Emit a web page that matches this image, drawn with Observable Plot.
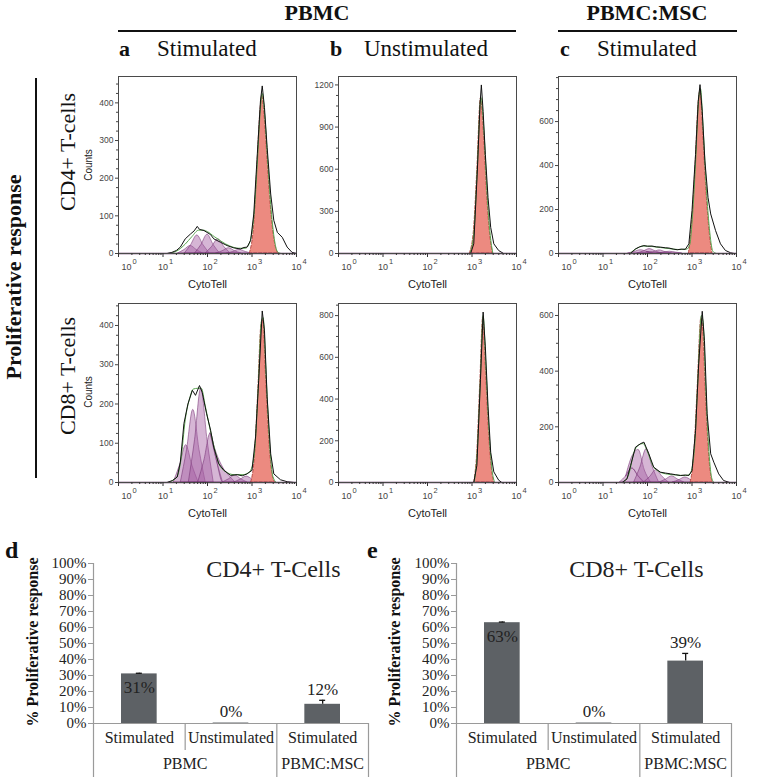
<!DOCTYPE html>
<html><head><meta charset="utf-8">
<script src="https://cdn.jsdelivr.net/npm/d3@7"></script>
<script src="https://cdn.jsdelivr.net/npm/@observablehq/plot@0.6"></script>
<style>
body{margin:0;background:#fff;}
#fig{position:relative;width:771px;height:783px;overflow:hidden;background:#fff;font-family:"Liberation Serif","Times New Roman",serif;color:#111;}
.t{position:absolute;white-space:nowrap;line-height:1;}
.c{transform:translate(-50%,-50%);}
.r{transform:translate(-50%,-50%) rotate(-90deg);}
.hl{position:absolute;background:#111;}
</style></head><body><div id="fig"></div>
<script>
// ---------- histogram data: [log10(CytoTell), counts] ----------
const aTopBlack = [[0,0],[1.09,0],[1.2,3],[1.3,8],[1.39,17],[1.5,39],[1.62,52],[1.7,60],[1.77,72],[1.82,64],[1.92,61],[1.99,56],[2.07,50],[2.14,39],[2.29,30],[2.44,21],[2.59,15],[2.74,12],[2.82,16],[2.89,17],[2.97,35],[3.04,105],[3.12,265],[3.19,405],[3.23,445],[3.28,388],[3.34,282],[3.42,158],[3.49,88],[3.57,56],[3.68,43],[3.79,17],[3.9,3],[4,0]];
const aTopGreen = [[1.1,0],[1.3,6],[1.5,25],[1.65,45],[1.8,62],[1.9,62],[2.0,58],[2.15,45],[2.3,33],[2.5,20],[2.7,14],[2.85,14],[2.95,30],[3.05,110],[3.12,240],[3.19,385],[3.23,425],[3.28,375],[3.35,250],[3.42,130],[3.5,40],[3.57,5],[3.65,0]];
const aTopRed = [[2.95,0],[3.05,80],[3.12,230],[3.19,380],[3.23,420],[3.28,370],[3.35,250],[3.42,130],[3.5,40],[3.57,5],[3.6,0]];
const aTopGens = [
  [[1.34,0],[1.48,9],[1.62,20],[1.76,9],[1.90,0]],
  [[1.49,0],[1.63,22],[1.77,48],[1.91,22],[2.05,0]],
  [[1.72,0],[1.86,22],[2.00,50],[2.14,22],[2.28,0]],
  [[1.96,0],[2.10,17],[2.24,38],[2.38,17],[2.52,0]],
  [[2.20,0],[2.34,6],[2.48,14],[2.62,6],[2.76,0]],
  [[2.44,0],[2.58,4],[2.72,10],[2.86,4],[3.00,0]]
];
const bTopBlack = [[0,0],[2.97,0],[3.04,69],[3.12,587],[3.18,1059],[3.21,1200],[3.25,1012],[3.3,705],[3.36,398],[3.42,186],[3.49,69],[3.6,21],[3.71,0],[4,0]];
const bTopGreen = [[2.95,0],[3.04,140],[3.12,610],[3.2,1110],[3.27,860],[3.34,420],[3.41,130],[3.47,0]];
const bTopRed = [[2.95,0],[3.04,150],[3.12,600],[3.2,1105],[3.27,850],[3.34,420],[3.41,130],[3.47,0]];
const bTopGens = [];
const cTopBlack = [[0,0],[1.62,0],[1.73,21],[1.82,30],[1.92,36],[2.0,33],[2.1,34],[2.2,30],[2.29,29],[2.4,26],[2.48,25],[2.58,20],[2.67,17],[2.76,20],[2.85,19],[2.93,44],[3.0,195],[3.08,451],[3.14,692],[3.18,768],[3.23,647],[3.29,421],[3.36,255],[3.42,180],[3.53,104],[3.64,44],[3.75,14],[3.87,3],[3.95,0],[4,0]];
const cTopGreen = [[1.6,0],[1.75,22],[1.9,34],[2.1,32],[2.3,27],[2.5,22],[2.7,18],[2.88,20],[2.95,40],[3.0,140],[3.08,410],[3.15,700],[3.19,750],[3.25,570],[3.32,305],[3.4,95],[3.47,10],[3.55,0]];
const cTopRed = [[2.93,0],[3.0,130],[3.08,400],[3.15,690],[3.19,740],[3.25,560],[3.32,300],[3.4,90],[3.46,0]];
const cTopGens = [
  [[1.57,0],[1.71,7],[1.85,15],[1.99,7],[2.13,0]],
  [[1.77,0],[1.91,9],[2.05,20],[2.19,9],[2.33,0]],
  [[1.99,0],[2.13,6],[2.27,14],[2.41,6],[2.55,0]],
  [[2.22,0],[2.36,4],[2.50,8],[2.64,4],[2.78,0]]
];
const aBotBlack = [[0,0],[1.09,0],[1.21,5],[1.32,14],[1.39,52],[1.47,150],[1.56,200],[1.66,235],[1.73,222],[1.82,247],[1.88,230],[1.98,175],[2.07,133],[2.14,90],[2.25,48],[2.37,31],[2.52,18],[2.67,20],[2.78,17],[2.89,22],[3.0,31],[3.08,116],[3.15,260],[3.23,437],[3.28,388],[3.34,218],[3.42,73],[3.49,22],[3.64,7],[3.79,2],[3.95,0],[4,0]];
const aBotGreen = [[1.1,0],[1.3,12],[1.4,55],[1.5,160],[1.6,215],[1.68,238],[1.78,240],[1.86,240],[1.95,195],[2.05,140],[2.15,90],[2.25,50],[2.4,28],[2.6,20],[2.8,20],[2.95,28],[3.05,70],[3.14,240],[3.21,410],[3.25,420],[3.32,265],[3.4,92],[3.47,15],[3.55,0]];
const aBotRed = [[2.98,0],[3.06,60],[3.14,230],[3.21,400],[3.25,415],[3.32,260],[3.4,90],[3.47,15],[3.52,0]];
const aBotGens = [
  [[1.24,0],[1.38,43],[1.52,95],[1.66,43],[1.80,0]],
  [[1.40,0],[1.54,83],[1.68,185],[1.82,83],[1.96,0]],
  [[1.58,0],[1.72,108],[1.86,240],[2.00,108],[2.14,0]],
  [[1.79,0],[1.93,56],[2.07,125],[2.21,56],[2.35,0]],
  [[2.07,0],[2.21,17],[2.35,38],[2.49,17],[2.63,0]],
  [[2.34,0],[2.48,8],[2.62,18],[2.76,8],[2.90,0]],
  [[2.60,0],[2.74,7],[2.88,15],[3.02,7],[3.16,0]]
];
const bBotBlack = [[0,0],[3.04,0],[3.11,82],[3.19,493],[3.25,817],[3.3,650],[3.36,366],[3.42,145],[3.49,51],[3.6,11],[3.67,0],[4,0]];
const bBotGreen = [[3.05,0],[3.12,155],[3.19,505],[3.25,800],[3.31,565],[3.38,255],[3.45,62],[3.51,0]];
const bBotRed = [[3.05,0],[3.12,150],[3.19,500],[3.25,790],[3.31,560],[3.38,250],[3.45,60],[3.5,0]];
const bBotGens = [];
const cBotBlack = [[0,0],[1.43,0],[1.54,13],[1.62,61],[1.73,127],[1.85,140],[1.92,145],[2.03,103],[2.14,55],[2.29,37],[2.4,34],[2.52,31],[2.63,28],[2.74,25],[2.85,27],[2.93,25],[3.0,43],[3.08,187],[3.15,426],[3.23,615],[3.28,510],[3.34,247],[3.42,103],[3.49,73],[3.6,31],[3.71,7],[3.85,0],[4,0]];
const cBotGreen = [[1.45,0],[1.58,30],[1.7,110],[1.8,135],[1.9,140],[2.0,110],[2.12,60],[2.25,40],[2.45,30],[2.65,27],[2.85,25],[2.95,30],[3.05,110],[3.13,360],[3.21,600],[3.25,575],[3.31,335],[3.38,112],[3.45,12],[3.5,0]];
const cBotRed = [[2.97,0],[3.05,100],[3.13,350],[3.21,590],[3.25,560],[3.31,330],[3.38,110],[3.45,10],[3.48,0]];
const cBotGens = [
  [[1.38,0],[1.52,22],[1.66,50],[1.80,22],[1.94,0]],
  [[1.52,0],[1.66,43],[1.80,95],[1.94,43],[2.08,0]],
  [[1.70,0],[1.84,54],[1.98,120],[2.12,54],[2.26,0]],
  [[1.92,0],[2.06,20],[2.20,45],[2.34,20],[2.48,0]],
  [[2.27,0],[2.41,10],[2.55,22],[2.69,10],[2.83,0]],
  [[2.57,0],[2.71,8],[2.85,18],[2.99,8],[3.13,0]]
];
// axis values
const yMaxes = [470, 1260, 805, 456, 858, 643];
const yTickSets = [[0,100,200,300,400],[0,300,600,900,1200],[0,200,400,600],[0,100,200,300,400],[0,200,400,600,800],[0,200,400,600]];
const xDecades = [1, 10, 100, 1000, 10000];
const xExponents = ["0","1","2","3","4"];
const xLabel = "CytoTell";
const yLabel = "Counts";

// ---------- bar chart data ----------
const barCategories = ["Stimulated", "Unstimulated", "Stimulated"];
const barGroups = ["PBMC", "PBMC:MSC"];
const barGroupSizes = [2, 1];
const cd4Values = [31, 0.3, 12];
const cd4Errors = [0.4, 0, 2.5];
const cd4Labels = ["31%", "0%", "12%"];
const cd8Values = [63, 0.3, 39];
const cd8Errors = [0.4, 0, 4.8];
const cd8Labels = ["63%", "0%", "39%"];
const labelInside = [true, false, false];
const pctTicks = [0,10,20,30,40,50,60,70,80,90,100];

const fig = document.getElementById("fig");
function txt(s, x, y, cls, style) {
  const d = document.createElement("div");
  d.className = "t " + (cls || "");
  d.style.left = x + "px"; d.style.top = y + "px";
  d.style.cssText += style || "";
  d.textContent = s; fig.appendChild(d); return d;
}
function line(x, y, w, h) {
  const d = document.createElement("div"); d.className = "hl";
  d.style.left = x + "px"; d.style.top = y + "px"; d.style.width = w + "px"; d.style.height = h + "px";
  fig.appendChild(d);
}
function place(el, left, top) {
  const w = document.createElement("div");
  w.style.cssText = `position:absolute;left:${left}px;top:${top}px;`;
  w.appendChild(el); fig.appendChild(w);
}

// ---------- histograms ----------
const panels = [
  {black: aTopBlack, green: aTopGreen, red: aTopRed, gens: aTopGens},
  {black: bTopBlack, green: bTopGreen, red: bTopRed, gens: bTopGens},
  {black: cTopBlack, green: cTopGreen, red: cTopRed, gens: cTopGens},
  {black: aBotBlack, green: aBotGreen, red: aBotRed, gens: aBotGens},
  {black: bBotBlack, green: bBotGreen, red: bBotRed, gens: bBotGens},
  {black: cBotBlack, green: cBotGreen, red: cBotRed, gens: cBotGens}
];
const colLefts = [118, 338, 558], rowTops = [76, 303], frameW = 178, frameHs = [177, 179];
const mL = 34, mR = 12, mT = 4, mB = 44;
const xMinor = [];
for (let d = 0; d < 4; d++) for (let m = 2; m <= 9; m++) xMinor.push(m * 10 ** d);
const toXY = p => ({x: 10 ** p[0], y: p[1]});

panels.forEach((p, k) => {
  const row = Math.floor(k / 3), col = k % 3;
  const ticks = yTickSets[k];
  const step = (ticks[1] - ticks[0]) / 4;
  const yMinor = d3.range(0, yMaxes[k], step).filter(v => !ticks.includes(v));
  const genData = p.gens.flatMap((g, i) => g.map(q => ({x: 10 ** q[0], y: q[1], g: i})));
  const svg = Plot.plot({
    width: mL + frameW + mR, height: mT + frameHs[row] + mB,
    marginLeft: mL, marginRight: mR, marginTop: mT, marginBottom: mB,
    x: {type: "log", domain: [1, 1e4], axis: null, label: null},
    y: {domain: [0, yMaxes[k]], axis: null, label: null},
    style: {fontFamily: "'Liberation Sans', Arial, sans-serif", background: "transparent", overflow: "visible"},
    marks: [
      Plot.areaY(genData, {x: "x", y: "y", z: "g", fill: "#a35ea2", fillOpacity: 0.45, stroke: "#7a3978", strokeWidth: 0.6, curve: "monotone-x"}),
      Plot.areaY(p.red.map(toXY), {x: "x", y: "y", fill: "#ec8a80", stroke: "#a8342e", strokeWidth: 0.8, strokeDasharray: "3,2", curve: "monotone-x"}),
      Plot.line(p.green.map(toXY), {x: "x", y: "y", stroke: "#5aa550", strokeWidth: 1, curve: "monotone-x"}),
      Plot.line(p.black.map(toXY), {x: "x", y: "y", stroke: "#111", strokeWidth: 1}),
      Plot.ruleY([0], {stroke: "#5b2a5b", strokeWidth: 1.6}),
      Plot.frame({stroke: "#4a4a4a"}),
      Plot.axisY({ticks: ticks, tickSize: 3, tickPadding: 2, tickFormat: d => String(d), fontSize: 8.5, color: "#444", label: null}),
      Plot.axisY({ticks: yMinor, tickSize: 2, tickFormat: () => "", stroke: "#444", label: null}),
      Plot.axisX({ticks: xDecades, tickSize: 4, tickFormat: () => "", stroke: "#333", label: null}),
      Plot.axisX({ticks: xMinor, tickSize: 2, tickFormat: () => "", stroke: "#333", label: null}),
      Plot.text(xDecades.slice(0, 1), {x: d => d, text: () => "10", frameAnchor: "bottom", dx: 8, dy: 16, fontSize: 9, fill: "#444"}),
      Plot.text(xDecades.slice(1), {x: d => d, text: () => "10", frameAnchor: "bottom", dy: 16, fontSize: 9, fill: "#444"}),
      Plot.text(xDecades.slice(0, 1), {x: d => d, text: (d, i) => xExponents[i], frameAnchor: "bottom", dx: 16, dy: 10, fontSize: 7.5, fill: "#444"}),
      Plot.text(xDecades.slice(1), {x: d => d, text: (d, i) => xExponents[i + 1], frameAnchor: "bottom", dx: 8, dy: 10, fontSize: 7.5, fill: "#444"}),
      Plot.text([xLabel], {frameAnchor: "bottom", dy: 34, fontSize: 11, fill: "#222"})
    ]
  });
  place(svg, colLefts[col] - mL, rowTops[row] - mT);
});

// ---------- headers & row labels ----------
txt("PBMC", 317, 13, "c", "font-size:22px;font-weight:bold;");
txt("PBMC:MSC", 647, 13, "c", "font-size:22px;font-weight:bold;");
line(118, 30, 398, 1.5);
line(558, 30, 179, 1.5);
const colHeads = [["a", "Stimulated"], ["b", "Unstimulated"], ["c", "Stimulated"]];
const headX = [[119, 157], [330, 364], [560, 597]];
colHeads.forEach((h, i) => {
  txt(h[0], headX[i][0], 38, "", "font-size:22px;font-weight:bold;");
  txt(h[1], headX[i][1], 37, "", "font-size:23px;");
});
txt("Proliferative response", 14, 277, "r", "font-size:22px;font-weight:bold;");
line(35, 78, 1.5, 400);
txt("CD4+ T-cells", 68, 152, "r", "font-size:22px;");
txt("CD8+ T-cells", 68, 376, "r", "font-size:22px;");
txt(yLabel, 89, 165, "r", "font-size:10px;font-family:'Liberation Sans',Arial,sans-serif;color:#222;");
txt(yLabel, 89, 392, "r", "font-size:10px;font-family:'Liberation Sans',Arial,sans-serif;color:#222;");

// ---------- bar charts ----------
const groupEdges = [0];
barGroupSizes.forEach(s => groupEdges.push(groupEdges[groupEdges.length - 1] + s));
const innerEdges = d3.range(1, barCategories.length).filter(e => !groupEdges.includes(e));
const groupData = barGroups.map((g, i) => ({name: g, mid: (groupEdges[i] + groupEdges[i + 1]) / 2}));

function barChart(values, errors, labels, title, left, mLeft, mRight) {
  const data = values.map((v, i) => ({i, v, e: errors[i], cat: barCategories[i], label: labels[i], inside: labelInside[i]}));
  const withErr = data.filter(d => d.e > 0);
  const svg = Plot.plot({
    width: mLeft + 275 + mRight, height: 243,
    marginLeft: mLeft, marginRight: mRight, marginTop: 23, marginBottom: 60,
    x: {domain: [0, barCategories.length], axis: null, label: null},
    y: {domain: [0, 100], axis: null, label: null},
    style: {fontFamily: "'Liberation Serif','Times New Roman',serif", background: "transparent", overflow: "visible", color: "#222"},
    marks: [
      Plot.rectY(data, {x1: "i", x2: d => d.i + 1, y: "v", insetLeft: 28, insetRight: 28, fill: "#5d6165"}),
      Plot.ruleX(withErr, {x: d => d.i + 0.5, y1: "v", y2: d => d.v + d.e, stroke: "#111", strokeWidth: 1.3}),
      Plot.ruleY(withErr, {y: d => d.v + d.e, x1: d => d.i + 0.5, x2: d => d.i + 0.5, insetLeft: -3, insetRight: -3, stroke: "#111", strokeWidth: 1.3}),
      Plot.ruleY([0], {stroke: "#9a9a9a", strokeWidth: 1.2}),
      Plot.ruleX([0], {stroke: "#9a9a9a", strokeWidth: 1.2}),
      Plot.axisY({ticks: pctTicks, tickSize: 5, tickPadding: 2, tickFormat: d => d + "%", fontSize: 15, fill: "#222", stroke: "#9a9a9a", label: null}),
      Plot.axisX({ticks: innerEdges, tickSize: 27, tickFormat: () => "", stroke: "#9a9a9a", strokeWidth: 1.2, label: null}),
      Plot.axisX({ticks: groupEdges, tickSize: 54, tickFormat: () => "", stroke: "#9a9a9a", strokeWidth: 1.2, label: null}),
      Plot.text(data, {x: d => d.i + 0.5, text: "cat", frameAnchor: "bottom", dy: 19, fontSize: 16, fill: "#222"}),
      Plot.text(groupData, {x: "mid", text: "name", frameAnchor: "bottom", dy: 45, fontSize: 16, fill: "#222"}),
      Plot.text(data.filter(d => d.inside), {x: d => d.i + 0.5, y: "v", text: "label", dy: 14, fontSize: 17, fill: "#222"}),
      Plot.text(data.filter(d => !d.inside), {x: d => d.i + 0.5, y: d => d.v + d.e, text: "label", dy: -11, fontSize: 17, fill: "#222"}),
      Plot.text([title], {frameAnchor: "top-right", dx: -28, dy: -4, fontSize: 24, textAnchor: "end", fill: "#222"})
    ]
  });
  place(svg, left, 540);
}
barChart(cd4Values, cd4Errors, cd4Labels, "CD4+ T-Cells", 0, 93, 17);
barChart(cd8Values, cd8Errors, cd8Labels, "CD8+ T-Cells", 386, 70, 15);
txt("d", 5, 538, "", "font-size:24px;font-weight:bold;");
txt("e", 367, 538, "", "font-size:24px;font-weight:bold;");
txt("% Proliferative response", 33, 642, "r", "font-size:16px;font-weight:bold;");
txt("% Proliferative response", 395, 642, "r", "font-size:16px;font-weight:bold;");
</script></body></html>
